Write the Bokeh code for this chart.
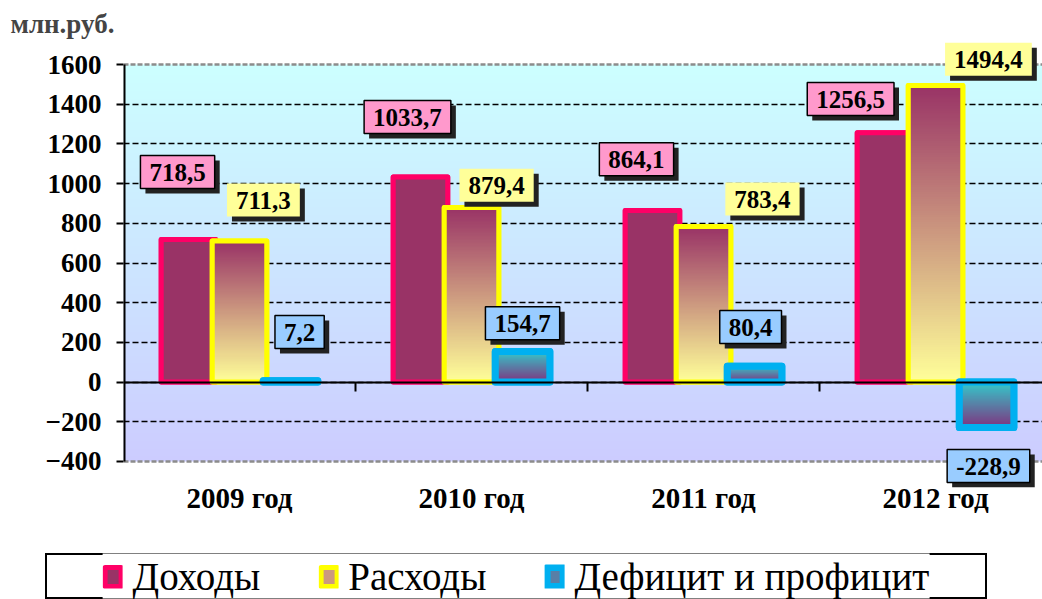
import numpy as np
from bokeh.plotting import figure
from bokeh.layouts import column
from bokeh.models import Range1d, FixedTicker, LinearAxis, Legend, LegendItem, Label, Span
from bokeh.embed import file_html
from bokeh.resources import INLINE

# ---- data ----
categories = ["2009 год", "2010 год", "2011 год", "2012 год"]
income = [718.5, 1033.7, 864.1, 1256.5]
expense = [711.3, 879.4, 783.4, 1494.4]
balance = [7.2, 154.7, 80.4, -228.9]
series_names = ["Доходы", "Расходы", "Дефицит и профицит"]
y_ticks = [-400, -200, 0, 200, 400, 600, 800, 1000, 1200, 1400, 1600]
y_unit = "млн.руб."

# ---- style / positions ----
FONT = "Liberation Serif"
bar_offsets = [-0.22, 0.0, 0.22]
bar_width = 0.235
line_colors = ["#ff0066", "#ffff00", "#00b0f0"]
fill_top = [(153, 51, 102), (153, 51, 102), (51, 204, 204)]
fill_bottom = [(153, 51, 102), (255, 255, 153), (128, 51, 128)]
line_widths = [5, 5, 7]
label_fill = ["#ff99cc", "#ffff99", "#99ccff"]
label_border = ["black", None, "black"]
label_dx = [[-0.267, -0.276, -0.289, -0.366],
            [0.103, 0.108, 0.254, 0.228],
            [0.259, 0.220, 0.203, 0.228]]
label_y = [[1058, 1335, 1123, 1426],
           [917, 992, 922, 1627],
           [252, 297, 277, -423]]

n = len(categories)
centers = [i + 0.5 for i in range(n)]
all_series = [income, expense, balance]

def no_frame_align(fig):
    if "frame_align" in fig.properties():
        fig.frame_align = False

p = figure(width=1042, height=553, output_backend="svg", toolbar_location=None,
           x_range=Range1d(0, 3.961), y_range=Range1d(-531, 1731),
           min_border_left=123, min_border_right=0, min_border_top=38, min_border_bottom=66)
no_frame_align(p)
p.outline_line_color = None
p.background_fill_color = "white"
p.border_fill_color = "white"

def grad(top, bottom, steps=128):
    arr = np.zeros((steps, 1), dtype=np.uint32)
    view = arr.view(dtype=np.uint8).reshape((steps, 1, 4))
    for k in range(steps):
        t = k / (steps - 1)  # 0 bottom -> 1 top
        c = [int(round(bottom[j] + (top[j] - bottom[j]) * t)) for j in range(3)]
        view[k, 0, 0], view[k, 0, 1], view[k, 0, 2] = c
        view[k, 0, 3] = 255
    return arr

# plot-area background gradient
bg = grad((204, 255, 255), (204, 204, 255), 256)
p.image_rgba(image=[bg], x=0, y=y_ticks[0], dw=4, dh=y_ticks[-1] - y_ticks[0], level="image")

# grid
p.xgrid.grid_line_color = None
p.ygrid.ticker = FixedTicker(ticks=y_ticks[1:-1])
p.ygrid.grid_line_color = "black"
p.ygrid.grid_line_dash = "6 3"
p.ygrid.grid_line_width = 1.6
for yv in (y_ticks[0], y_ticks[-1]):
    p.add_layout(Span(location=yv, dimension="width", line_color="#8c8c8c",
                      line_dash="5 2", line_width=2.5, level="underlay"))

# y axis line limited to the plot area
p.segment(x0=[0], y0=[y_ticks[0]], x1=[0], y1=[y_ticks[-1]], line_color="black", line_width=4)

yax = p.yaxis[0]
yax.ticker = FixedTicker(ticks=y_ticks)
yax.axis_line_color = None
yax.major_tick_line_color = "black"
yax.major_tick_line_width = 2
yax.major_tick_in = 0
yax.major_tick_out = 7
yax.minor_tick_line_color = None
yax.major_label_standoff = 15
yax.major_label_text_font = FONT
yax.major_label_text_font_style = "bold"
yax.major_label_text_font_size = "27px"
yax.major_label_text_color = "black"

# x axis (category labels)
xax = p.xaxis[0]
xax.ticker = FixedTicker(ticks=centers)
xax.major_label_overrides = {c: categories[i] for i, c in enumerate(centers)}
xax.axis_line_color = None
xax.major_tick_line_color = None
xax.minor_tick_line_color = None
xax.major_tick_in = 0
xax.major_tick_out = 0
xax.major_label_standoff = -6
xax.major_label_text_font = FONT
xax.major_label_text_font_style = "bold"
xax.major_label_text_font_size = "29px"
xax.major_label_text_color = "black"

# zero axis with boundary ticks
zax = LinearAxis(fixed_location=0, ticker=FixedTicker(ticks=[i for i in range(1, n)]))
zax.major_label_overrides = {i: "" for i in range(1, n)}
zax.major_label_text_font_size = "1px"
zax.major_label_standoff = 1
zax.axis_line_color = "black"
zax.axis_line_width = 2
zax.major_tick_line_color = "black"
zax.major_tick_line_width = 2
zax.major_tick_in = 0
zax.major_tick_out = 9
zax.minor_tick_line_color = None

for s, vals in enumerate(all_series):
    xs = [c + bar_offsets[s] for c in centers]
    mid = tuple(int((fill_top[s][j] + fill_bottom[s][j]) / 2) for j in range(3))
    p.vbar(x=xs, top=vals, bottom=0, width=bar_width,
           fill_color="#%02x%02x%02x" % mid, line_color=line_colors[s],
           line_width=line_widths[s], line_join="round")
    g = grad(fill_top[s], fill_bottom[s])
    p.image_rgba(image=[g] * n, x=[x - bar_width / 2 for x in xs],
                 y=[min(0, v) for v in vals], dw=[bar_width] * n,
                 dh=[abs(v) for v in vals])
    p.vbar(x=xs, top=vals, bottom=0, width=bar_width, fill_color=None,
           line_color=line_colors[s], line_width=line_widths[s], line_join="round")

p.add_layout(zax, "below")

# data labels with shadow
for s, vals in enumerate(all_series):
    for i, v in enumerate(vals):
        txt = ("%.1f" % v).replace(".", ",")
        lx = centers[i] + label_dx[s][i]
        ly = label_y[s][i]
        common = dict(x=lx, y=ly, text=txt, text_font=FONT, text_font_style="bold",
                      text_font_size="25px", text_align="center", text_baseline="middle",
                      padding=(9, 8))
        p.add_layout(Label(x_offset=5, y_offset=-5, text_color="#222222",
                           background_fill_color="#222222", **common))
        p.add_layout(Label(background_fill_color=label_fill[s],
                           border_line_color=label_border[s], border_line_width=1.5,
                           text_color="black", **common))

# title
p.title.text = y_unit
p.title.text_font = FONT
p.title.text_font_style = "bold"
p.title.text_font_size = "27px"
p.title.align = "left"
p.title.offset = -113
p.title.standoff = 0

# ---- legend strip ----
lf = figure(width=942, height=46, output_backend="svg", toolbar_location=None,
            x_range=Range1d(0, 1), y_range=Range1d(0, 1), x_axis_type=None, y_axis_type=None,
            min_border=0, min_border_left=0, min_border_right=0, min_border_top=0,
            min_border_bottom=0, margin=(0, 0, 0, 45))
no_frame_align(lf)
lf.grid.visible = False
lf.outline_line_color = "black"
lf.outline_line_width = 3
lf.background_fill_color = "white"
items = []
for s in range(3):
    mid = tuple(int((fill_top[s][j] + fill_bottom[s][j]) / 2) for j in range(3))
    # degenerate swatch source hidden under the opaque legend box
    r = lf.vbar(x=[0.5], top=[0.5], bottom=[0.5], width=0.0, fill_color="#%02x%02x%02x" % mid,
                line_color=line_colors[s], line_width=line_widths[s], line_join="round")
    items.append(LegendItem(label=series_names[s], renderers=[r]))
legend = Legend(items=items, orientation="horizontal", location="center",
                label_text_font=FONT, label_text_font_size="39px", label_text_color="black",
                glyph_width=20, glyph_height=24, label_standoff=10, spacing=58,
                padding=0, margin=0, border_line_color=None,
                background_fill_color="white", background_fill_alpha=1)
lf.add_layout(legend, "center")

layout = column(p, lf, spacing=0)
open("out.html", "w").write(file_html(layout, INLINE))
